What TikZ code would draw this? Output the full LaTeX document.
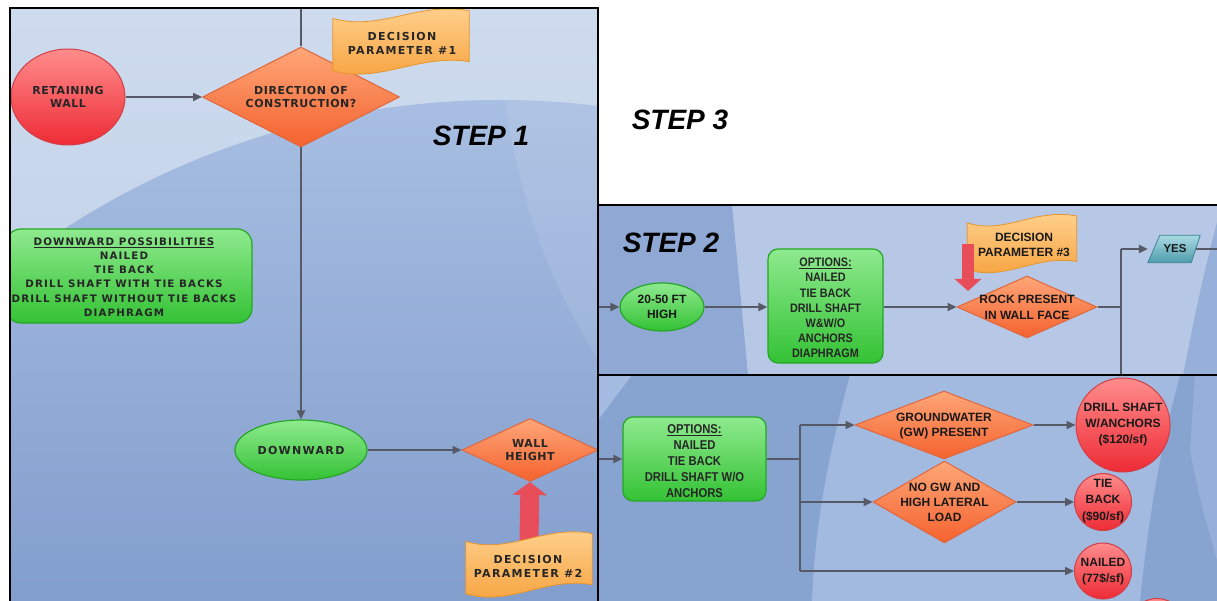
\documentclass[tikz,border=0pt]{standalone}
\usepackage{fontspec}
\setmainfont{Liberation Sans}
\newfontfamily\lblfont[LetterSpace=5]{DejaVu Sans}
\newfontfamily\flagfont[LetterSpace=12]{DejaVu Sans}
\newfontfamily\boxfont[LetterSpace=11]{DejaVu Sans}
\newfontfamily\narrowfont[FakeStretch=0.88]{Liberation Sans}
\usetikzlibrary{shapes.geometric,arrows.meta,calc}
\definecolor{lineC}{HTML}{555A66}
\definecolor{redL}{HTML}{FF8C8C}
\definecolor{redM}{HTML}{EE2B35}
\definecolor{redD}{HTML}{D04048}
\definecolor{orgL}{HTML}{FFA678}
\definecolor{orgM}{HTML}{F4622E}
\definecolor{orgD}{HTML}{E0663C}
\definecolor{grnL}{HTML}{8EEA8E}
\definecolor{grnM}{HTML}{34C234}
\definecolor{grnD}{HTML}{26A626}
\definecolor{flgL}{HTML}{FFD392}
\definecolor{flgM}{HTML}{F6A03A}
\definecolor{flgD}{HTML}{E8962C}
\definecolor{fatR}{HTML}{E84E5A}
\definecolor{yesL}{HTML}{A9DAE2}
\definecolor{yesM}{HTML}{4E9CAC}
\definecolor{yesD}{HTML}{3C8494}
\definecolor{bgOne}{RGB}{206,219,238}
\definecolor{bgTwo}{RGB}{186,203,230}
\definecolor{bgThree}{RGB}{168,190,226}
\definecolor{bgFour}{RGB}{130,158,205}
\definecolor{bgFive}{RGB}{182,200,230}
\definecolor{bgSix}{RGB}{143,169,212}
\definecolor{bgSeven}{RGB}{150,176,217}
\definecolor{bgEight}{RGB}{135,164,208}
\definecolor{bgNine}{RGB}{163,186,224}
\definecolor{bgTen}{RGB}{165,188,226}
\tikzset{
 conn/.style={draw=lineC, line width=2.2pt, -{Triangle[length=9pt,width=8pt]}},
 plainline/.style={draw=lineC, line width=2.2pt},
 wtxt/.style={font=\lblfont\bfseries\fontsize{11}{13.5}\selectfont, align=center, text=black!85},
 ftxt/.style={font=\flagfont\bfseries\fontsize{11}{14}\selectfont, align=center, text=black!85},
 ntxt/.style={font=\bfseries\fontsize{12}{15.5}\selectfont, align=center, text=black!90},
 otxt/.style={font=\narrowfont\bfseries\fontsize{12.5}{15.5}\selectfont, align=center, text=black!85},
 redball/.style={ellipse, inner sep=0pt, draw=redD, line width=1pt, top color=redL, bottom color=redM},
 orgdia/.style={diamond, inner sep=0pt, draw=orgD, line width=1pt, top color=orgL, bottom color=orgM},
 gbox/.style={rectangle, rounded corners=12pt, inner sep=0pt, draw=grnD, line width=1.2pt, top color=grnL, bottom color=grnM},
 gell/.style={ellipse, inner sep=0pt, draw=grnD, line width=1.2pt, top color=grnL, bottom color=grnM},
 flagbox/.style={rectangle, inner sep=0pt},
 flagstyle/.style={top color=flgL, bottom color=flgM, draw=flgD, line width=0.8pt},
 yesstyle/.style={draw=yesD, line width=0.8pt, top color=yesL, bottom color=yesM},
 steplbl/.style={font=\bfseries\itshape\fontsize{28}{30}\selectfont, text=black},
 fatred/.style={draw=fatR, line width=19pt, -{Triangle[length=13pt,width=34pt]}},
 fatredsmall/.style={draw=fatR, line width=12pt, -{Triangle[length=12pt,width=26pt]}},
 panel/.style={draw=black, line width=2.2pt},
}
\newcommand\drawflag[1]{%
\path[flagstyle] let \p1=(#1.north west), \p2=(#1.south east), \n1={\x2-\x1}, \n2={\y1-\y2} in
 (\x1,{\y1-0.14*\n2}) .. controls ({\x1+0.35*\n1},{\y1-0.34*\n2}) and ({\x1+0.62*\n1},{\y1+0.12*\n2}) .. (\x2,{\y1-0.02*\n2})
 -- (\x2,{\y1-0.80*\n2}) .. controls ({\x1+0.62*\n1},{\y1-0.68*\n2}) and ({\x1+0.35*\n1},{\y1-1.14*\n2}) .. (\x1,{\y1-0.94*\n2}) -- cycle;}
\begin{document}
\begin{tikzpicture}[x=1pt,y=-1pt]
\useasboundingbox (0,0) rectangle (1217,601);
\fill[white] (0,0) rectangle (1217,601);

% ---------- STEP 1 panel ----------
\begin{scope}
\clip (10,8) rectangle (598,601);
\shade[top color=bgOne, bottom color=bgTwo] (10,8) rectangle (598,601);
\begin{scope}
\clip (500,900) circle[radius=800pt];
\shade[top color=bgThree, bottom color=bgFour] (10,100) rectangle (598,601);
\fill[white, opacity=0.09] (505,100) .. controls (522,220) and (560,300) .. (600,362) -- (600,100) -- cycle;
\end{scope}

\coordinate (top1) at (301,8);
\node[redball, minimum width=114, minimum height=96] (rw) at (68,97) {};
\node[wtxt] (rwt) at (rw) {RETAINING\\WALL};
\node[orgdia, minimum width=197, minimum height=100] (doc) at (301,97) {};
\node[wtxt] (doct) at (doc) {DIRECTION OF\\CONSTRUCTION?};
\draw[plainline] (top1) -- (doc.north);
\draw[conn] (rw.east) -- (doc.west);

\node[flagbox, minimum width=136, minimum height=65] (f1) at (401,42) {};
\drawflag{f1}
\node[ftxt] (f1t) at (402,43) {DECISION\\PARAMETER \#1};

\node[steplbl] (s1) at (481,136) {STEP 1};

\node[gbox, minimum width=246, minimum height=94, rounded corners=15pt] (dp) at (129,276) {};
\node[align=center, text=black!85, font=\boxfont\bfseries\fontsize{10.3}{14.2}\selectfont] (dpt) at (124,277) {\underline{DOWNWARD POSSIBILITIES}\\NAILED\\TIE BACK\\DRILL SHAFT WITH TIE BACKS\\DRILL SHAFT WITHOUT TIE BACKS\\DIAPHRAGM};

\node[gell, minimum width=132, minimum height=60] (dw) at (301,450) {};
\node[ftxt] (dwt) at (dw) {DOWNWARD};
\draw[conn] (doc.south) -- (dw.north);

\node[orgdia, minimum width=136, minimum height=63] (wh) at (530,450) {};
\node[wtxt] (wht) at (wh) {WALL\\HEIGHT};
\draw[conn] (dw.east) -- (wh.west);

\node[flagbox, minimum width=126, minimum height=65] (f2) at (529,565) {};
\draw[fatred] ($(f2.north)+(0,8)$) -- (wh.south);
\drawflag{f2}
\node[ftxt] (f2t) at (528,566) {DECISION\\PARAMETER \#2};
\end{scope}

% ---------- STEP 3 label ----------
\node[steplbl] (s3) at (680,120) {STEP 3};

% ---------- STEP 2 panel ----------
\begin{scope}
\clip (598,205) rectangle (1217,375);
\fill[bgFive] (598,205) rectangle (1217,375);
\fill[bgSix] (598,205) -- (732,205) -- (748,375) -- (598,375) -- cycle;
\fill[bgSeven] (1217,222) .. controls (1200,290) .. (1183,375) -- (1217,375) -- cycle;

\node[steplbl] (s2) at (671,243) {STEP 2};
\coordinate (in2) at (598,307);
\node[gell, minimum width=84, minimum height=48] (e2) at (662,307) {};
\node[ntxt] (e2t) at (e2) {20-50 FT\\HIGH};
\draw[conn] (in2) -- (e2.west);

\node[gbox, minimum width=115, minimum height=114, rounded corners=10pt] (ob2) at (825.5,306) {};
\node[otxt, font=\narrowfont\bfseries\fontsize{12.3}{15.2}\selectfont] (ob2t) at (825.5,308) {\underline{OPTIONS:}\\NAILED\\TIE BACK\\DRILL SHAFT\\W\&W/O\\ANCHORS\\DIAPHRAGM};
\draw[conn] (e2.east) -- (ob2.west |- e2.east);

\node[orgdia, minimum width=140, minimum height=62] (rock) at (1027,307) {};
\node[ntxt, font=\bfseries\fontsize{12}{16}\selectfont] (rockt) at (rock) {ROCK PRESENT\\IN WALL FACE};
\draw[conn] (ob2.east |- rock.west) -- (rock.west);

\node[flagbox, minimum width=109, minimum height=58] (f3) at (1022,244) {};
\drawflag{f3}
\node[ntxt, font=\bfseries\fontsize{12}{15}\selectfont] (f3t) at (1024,245) {DECISION\\PARAMETER \#3};
\coordinate (r3a) at (968,244);
\coordinate (r3b) at (968,291);
\draw[fatredsmall] (r3a) -- (r3b);

\coordinate (j2) at (1121,307);
\coordinate (j3) at (1121,249);
\coordinate (j4) at (1121,378);
\draw[plainline] (rock.east) -- (j2);
\draw[plainline] (j3) -- (j4);
\node[rectangle, inner sep=0pt, minimum width=52, minimum height=27] (yes) at (1174,249) {};
\path[yesstyle] ($(yes.north west)+(12,0)$) -- (yes.north east) -- ($(yes.south east)+(-9,0)$) -- (yes.south west) -- cycle;
\node[ntxt, font=\bfseries\fontsize{11.5}{13}\selectfont] (yest) at (1175,249) {YES};
\draw[conn] (j3) -- (yes.west);
\coordinate (yesout) at (1219,249);
\draw[plainline] ($(yes.east)+(-4,0)$) -- (yesout);
\end{scope}

% ---------- STEP 3 panel ----------
\begin{scope}
\clip (598,375) rectangle (1217,601);
\fill[bgEight] (598,375) rectangle (1217,601);
\fill[bgNine] (850,375) .. controls (830,450) and (815,520) .. (812,601) -- (1140,601) .. controls (1150,500) and (1165,430) .. (1180,375) -- cycle;
\fill[bgTen] (598,375) -- (632,375) -- (598,420) -- cycle;
\fill[bgSeven] (1195,375) -- (1217,375) -- (1217,560) .. controls (1200,500) .. (1190,450) -- cycle;

\coordinate (in3) at (598,459);
\node[gbox, minimum width=143, minimum height=84, rounded corners=10pt] (ob3) at (694.5,459) {};
\node[otxt, font=\narrowfont\bfseries\fontsize{12.8}{16}\selectfont] (ob3t) at (694.5,461) {\underline{OPTIONS:}\\NAILED\\TIE BACK\\DRILL SHAFT W/O\\ANCHORS};
\draw[conn] (in3) -- (ob3.west);
\coordinate (k1) at (800,459);
\draw[plainline] (ob3.east) -- (k1);

\node[orgdia, minimum width=178, minimum height=68] (gw) at (944,425) {};
\node[ntxt, font=\bfseries\fontsize{12}{15}\selectfont] (gwt) at (944,426) {GROUNDWATER\\(GW) PRESENT};
\node[orgdia, minimum width=143, minimum height=82] (ngw) at (944.5,502) {};
\node[ntxt, font=\bfseries\fontsize{12}{15}\selectfont] (ngwt) at (ngw) {NO GW AND\\HIGH LATERAL\\LOAD};

\node[redball, minimum width=94, minimum height=94] (ds) at (1123,425) {};
\node[ntxt, font=\bfseries\fontsize{12}{16}\selectfont] (dst) at (ds) {DRILL SHAFT\\W/ANCHORS\\(\$120/sf)};
\node[redball, minimum width=57, minimum height=57] (tb) at (1103,502) {};
\node[ntxt, font=\bfseries\fontsize{12}{16.5}\selectfont] (tbt) at (1103,501) {TIE\\BACK\\(\$90/sf)};
\node[redball, minimum width=57, minimum height=56] (nl) at (1103,571) {};
\node[ntxt, font=\bfseries\fontsize{12}{16}\selectfont] (nlt) at (1103,572) {NAILED\\(77\$/sf)};
\node[redball, minimum width=57, minimum height=57] (extra) at (1157,627) {};

\draw[plainline] (k1 |- gw.west) -- (k1 |- nl.west);
\draw[conn] (k1 |- gw.west) -- (gw.west);
\draw[conn] (k1 |- ngw.west) -- (ngw.west);
\draw[conn] (k1 |- nl.west) -- (nl.west);
\draw[conn] (gw.east) -- (ds.west);
\draw[conn] (ngw.east) -- (tb.west);
\end{scope}

% ---------- panel borders ----------
\draw[panel] (10,603) -- (10,8) -- (598,8) -- (598,603);
\draw[panel] (598,205) -- (1219,205);
\draw[panel] (598,375) -- (1219,375);
\end{tikzpicture}
\end{document}
